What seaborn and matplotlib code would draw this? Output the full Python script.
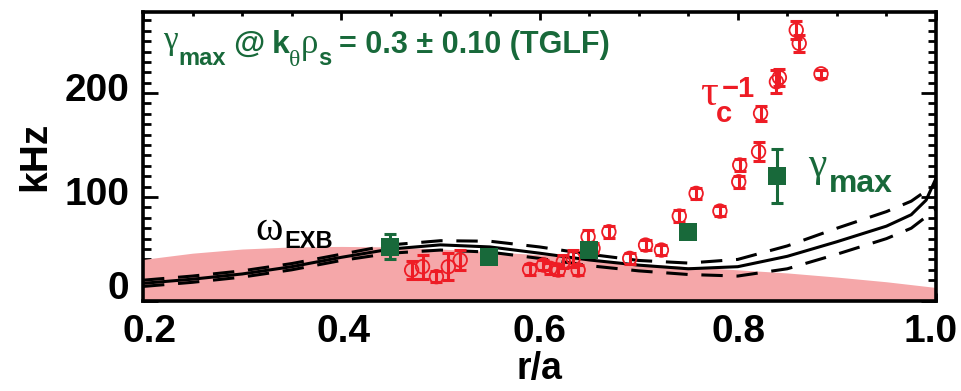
import numpy as np
import pandas as pd
import matplotlib
matplotlib.use("Agg")
import matplotlib.pyplot as plt
import matplotlib.transforms as mtransforms
from matplotlib.ticker import MultipleLocator
import seaborn as sns

# ---- data ----
# E x B shearing rate profile (solid) with upper / lower bounds (dashed)
r_exb = [0.20, 0.25, 0.30, 0.35, 0.40, 0.45, 0.50, 0.55, 0.60, 0.65, 0.70, 0.75, 0.80, 0.85, 0.90, 0.95, 0.975, 0.99, 1.00]
w_exb = [17, 21, 26, 33, 42, 50, 54, 52, 46, 39.5, 34.5, 31, 33, 43, 57, 72, 83, 97, 118]
w_exb_hi = [20, 24, 29, 36, 45, 54, 58, 57.5, 52, 45, 39, 36.5, 40, 53, 70, 86, 96, 106, 112]
w_exb_lo = [14, 18, 23, 30, 39, 46, 49, 47, 41, 34, 29, 25.5, 24, 31, 45, 60, 70, 81, 88]

# shaded band (upper edge)
r_band = [0.20, 0.25, 0.30, 0.35, 0.40, 0.45, 0.50, 0.55, 0.60, 0.65, 0.70, 0.75, 0.80, 0.85, 0.90, 0.95, 1.00]
band_top = [40, 46, 50, 52, 52.5, 52, 50, 47.5, 44.5, 40.5, 36, 33, 30, 27, 23, 18.5, 13]

# tau_c^-1 measurements
r_tau = [0.471, 0.482, 0.496, 0.508, 0.520, 0.590, 0.604, 0.611, 0.619, 0.624, 0.634, 0.639,
         0.649, 0.654, 0.670, 0.691, 0.707, 0.723, 0.741, 0.758, 0.782, 0.801, 0.802, 0.821,
         0.823, 0.839, 0.842, 0.859, 0.862, 0.884]
tau_inv = [29.8, 33, 23.4, 33, 39.4, 30.4, 34.6, 31.4, 29.8, 37.8, 41, 29.8,
           61.8, 50.7, 66.6, 41, 53.8, 49, 81.7, 103.5, 86.5, 114.7, 130.8, 143.6,
           180.5, 210.9, 215, 260.6, 247.8, 218.5]
tau_err = [9, 11.5, 5, 13, 10, 5, 5, 5, 5, 6, 8, 5,
           6.5, 5, 6, 5, 5, 5, 6, 5, 5, 6, 6, 9,
           7, 11, 8, 9, 8, 4]

# gamma_max (TGLF)
r_gam = [0.449, 0.549, 0.650, 0.750, 0.840]
gam = [52, 42.6, 49, 66.7, 120]
gam_err = [12, 0, 0, 0, 26]

x_ticks = [0.2, 0.4, 0.6, 0.8, 1.0]
x_ticklabels = ["0.2", "0.4", "0.6", "0.8", "1.0"]
y_ticks = [0, 100, 200]
y_ticklabels = ["0", "100", "200"]

RED = "#ee1c25"
GREEN = "#18693a"
PINK = "#f5a7a9"

sns.set_theme(style="ticks")
SANS = ["Liberation Sans", "DejaVu Sans"]
SERIF = ["Liberation Serif", "DejaVu Serif"]
plt.rcParams["font.family"] = SANS
plt.rcParams["font.weight"] = "bold"
for k in ["text.color", "axes.labelcolor", "xtick.color", "ytick.color", "axes.edgecolor"]:
    plt.rcParams[k] = "black"

fig = plt.figure(figsize=(9.61, 3.91), dpi=100)
ax = fig.add_axes([143 / 961, 1 - 301 / 391, (936 - 143) / 961, (301 - 12) / 391])

ax.fill_between(r_band, 0, band_top, color=PINK, lw=0, zorder=1)

df_exb = pd.DataFrame({"r": r_exb, "w": w_exb, "hi": w_exb_hi, "lo": w_exb_lo})
sns.lineplot(data=df_exb, x="r", y="w", color="black", lw=2.2, ax=ax, zorder=3)
sns.lineplot(data=df_exb, x="r", y="hi", color="black", lw=2.2, ax=ax, zorder=3)
sns.lineplot(data=df_exb, x="r", y="lo", color="black", lw=2.2, ax=ax, zorder=3)
for ln in ax.lines[1:3]:
    ln.set_dashes((7, 4.5))

ax.errorbar(r_tau, tau_inv, yerr=tau_err, fmt="none", ecolor=RED, elinewidth=2.2,
            capsize=4, capthick=2.2, zorder=4)
df_tau = pd.DataFrame({"r": r_tau, "t": tau_inv})
sns.scatterplot(data=df_tau, x="r", y="t", marker="o", s=95, facecolor="none",
                edgecolor=RED, linewidth=1.3, ax=ax, zorder=5)

ax.errorbar(r_gam, gam, yerr=gam_err, fmt="none", ecolor=GREEN, elinewidth=2.2,
            capsize=4, capthick=2.2, zorder=6)
df_gam = pd.DataFrame({"r": r_gam, "g": gam})
sns.scatterplot(data=df_gam, x="r", y="g", marker="s", s=150, color=GREEN,
                linewidth=0, ax=ax, zorder=7)

ax.set_xlim(0.2, 1.0)
ax.set_ylim(0, 278)
ax.set_xticks(x_ticks)
ax.set_xticklabels(x_ticklabels)
ax.set_yticks(y_ticks)
ax.set_yticklabels(y_ticklabels)
ax.xaxis.set_minor_locator(MultipleLocator(0.05))
ax.yaxis.set_minor_locator(MultipleLocator(10))
ax.tick_params(axis="x", which="major", direction="in", length=5.5, width=2, top=True,
               labelsize=28, pad=9)
ax.tick_params(axis="x", which="minor", direction="in", length=2.8, width=2, top=True)
ax.tick_params(axis="y", which="major", direction="in", length=11, width=2, right=True,
               labelsize=28, pad=10)
ax.tick_params(axis="y", which="minor", direction="in", length=5.5, width=2, right=True)
for s in ax.spines.values():
    s.set_linewidth(2.6)
    s.set_visible(True)

for lab, dy in zip(ax.get_yticklabels(), [16, 6, 6]):
    lab.set_transform(lab.get_transform() + mtransforms.ScaledTranslation(0, dy / 100, fig.dpi_scale_trans))
for lab, dx in zip(ax.get_xticklabels(), [7, 2, 0, 1, -5]):
    lab.set_transform(lab.get_transform() + mtransforms.ScaledTranslation(dx / 100, 0, fig.dpi_scale_trans))

ax.set_xlabel("r/a", fontsize=27, fontweight="bold", labelpad=1)
ax.set_ylabel("kHz", fontsize=28, fontweight="bold", labelpad=8)

renderer = fig.canvas.get_renderer()


def rich(x, y, parts, color):
    """Lay out text pieces left to right from a baseline anchor (data coords).
    parts: (text, size, family, weight, dx_px, dy_px)"""
    off = 0.0
    for s, size, fam, wt, dx, dy in parts:
        off += dx
        tr = ax.transData + mtransforms.Affine2D().translate(off, dy)
        t = ax.text(x, y, s, transform=tr, fontsize=size, family=fam, fontweight=wt,
                    color=color, ha="left", va="baseline", zorder=8)
        off += t.get_window_extent(renderer).width


# title-like annotation
rich(0.2202, 238.5, [
    ("γ", 24, SERIF, "normal", 0, 4),
    ("max", 17, SANS, "bold", 1, -12),
    ("@", 23, SANS, "bold", 7, 0),
    ("k", 23, SANS, "bold", 7, 0),
    ("θ", 17, SERIF, "normal", 0, -13),
    ("ρ", 25, SERIF, "normal", 0, 0),
    ("s", 17, SANS, "bold", 0, -12),
    ("= 0.3 ± 0.10 (TGLF)", 22, SANS, "bold", 8, 0),
], GREEN)

# tau_c^-1 label
rich(0.762, 188.5, [
    ("τ", 32, SERIF, "normal", 0, 0),
    ("c", 21, SANS, "bold", -2, -17),
], RED)
ax.text(0.7843, 196, "−1", fontsize=21, fontweight="bold", color=RED,
        ha="left", va="baseline", zorder=8)

# gamma_max label
rich(0.871, 120.2, [
    ("γ", 30, SERIF, "normal", 0, 0),
    ("max", 23, SANS, "bold", 2, -16),
], GREEN)

# omega_ExB label
rich(0.313, 58.7, [
    ("ω", 30, SERIF, "normal", 0, 0),
    ("EXB", 17, SANS, "bold", 2, -8),
], "black")

fig.savefig("out.png", dpi=100)
